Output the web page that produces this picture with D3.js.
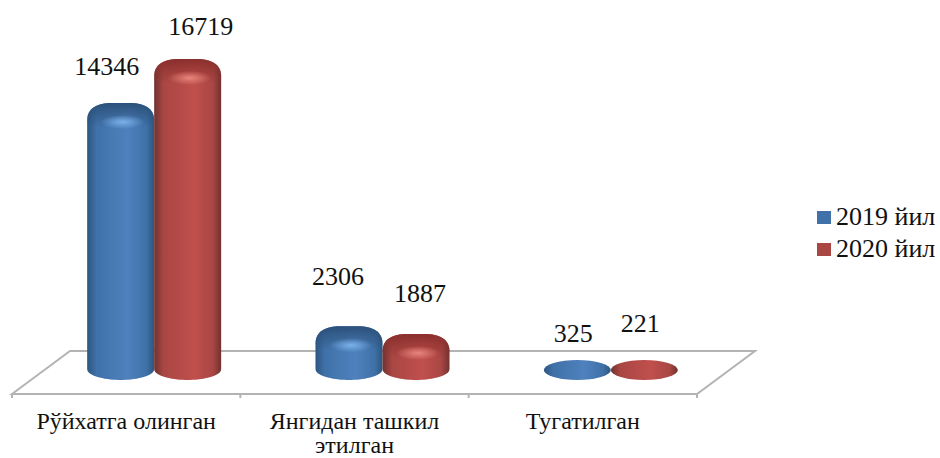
<!DOCTYPE html>
<html>
<head>
<meta charset="utf-8">
<script src="https://cdn.jsdelivr.net/npm/d3@7"></script>
<style>
    html, body { margin: 0; padding: 0; background: #fff; }
    text { font-family: "Liberation Serif", serif; fill: #111; }
</style>
</head>
<body>
<div id="chart"></div>
<script>
const categories = [['Рўйхатга олинган'], ['Янгидан ташкил', 'этилган'], ['Тугатилган']];
const seriesNames = ['2019 йил', '2020 йил'];
const values2019 = [14346, 2306, 325];
const values2020 = [16719, 1887, 221];

const width = 940;
const height = 458;
const depth = 58;       // floor skew
const frontY = 394;
const backY = 351;
const barBottom = 380;
const minBarHeight = 20;

// hand placed nudges for the data labels [dx, gap above bar]
const nudge2019 = [[-15, 28], [-12, 41], [-5, 18]];
const nudge2020 = [[12, 24], [3, 32], [-5, 28]];

const palette = [
    { dark: '#2d5680', mid: '#3f71a8', light: '#4f81bd', hi: '#7ab2ea', top: '#2b5079' },
    { dark: '#703230', mid: '#a94643', light: '#c0504d', hi: '#e8857c', top: '#8a2f2c' }
];

const svg = d3.select('#chart')
    .append('svg')
    .attr('width', width)
    .attr('height', height)
    .style('display', 'block');

const x = d3.scaleBand().domain(d3.range(categories.length)).range([12, 697]);
const y = d3.scaleLinear().domain([0, 16719]).range([369, 59]);

const defs = svg.append('defs');
defs.append('filter').attr('id', 'soft')
    .append('feGaussianBlur').attr('stdDeviation', 0.7);

palette.forEach((c, i) => {
    const g = defs.append('linearGradient').attr('id', `side${i}`);
    [[0, c.dark], [0.14, c.mid], [0.6, c.light], [0.88, c.mid], [1, c.dark]].forEach(s => {
        g.append('stop').attr('offset', s[0]).attr('stop-color', s[1]);
    });
    const cap = defs.append('linearGradient').attr('id', `cap${i}`)
        .attr('x1', 0).attr('x2', 0).attr('y1', 0).attr('y2', 1);
    cap.append('stop').attr('offset', 0).attr('stop-color', c.top).attr('stop-opacity', 1);
    cap.append('stop').attr('offset', 1).attr('stop-color', c.top).attr('stop-opacity', 0);
    const r = defs.append('radialGradient').attr('id', `hi${i}`);
    r.append('stop').attr('offset', 0).attr('stop-color', c.hi).attr('stop-opacity', 1);
    r.append('stop').attr('offset', 1).attr('stop-color', c.hi).attr('stop-opacity', 0);
});

// floor
const floor = svg.append('g')
    .attr('fill', 'none')
    .attr('stroke', '#b3b3b3')
    .attr('stroke-width', 2);

floor.append('path')
    .attr('d', `M12,${frontY}L${12 + depth},${backY}L${697 + depth},${backY}L697,${frontY}Z`);

floor.selectAll('line')
    .data(d3.range(categories.length + 1))
    .join('line')
    .attr('x1', d => 12 + d * x.bandwidth())
    .attr('x2', d => 12 + d * x.bandwidth())
    .attr('y1', frontY)
    .attr('y2', frontY + 4);

const barWidth = 67;

function ellipsePath(x0, top) {
    const h = barBottom - top;
    const w = barWidth;
    return `M${x0},${top + h / 2}A${w / 2},${h / 2} 0 1 1 ${x0 + w},${top + h / 2}A${w / 2},${h / 2} 0 1 1 ${x0},${top + h / 2}Z`;
}

// upper contour of a bar, left to right, with wide round shoulders
function shoulder(x0, top) {
    const w = barWidth;
    const rx = w * 0.36;
    return `L${x0},${top + 17}` +
        `C${x0},${top + 5} ${x0 + rx * 0.45},${top} ${x0 + rx},${top}` +
        `L${x0 + w - rx},${top}` +
        `C${x0 + w - rx * 0.45},${top} ${x0 + w},${top + 5} ${x0 + w},${top + 17}`;
}

function barPath(x0, top) {
    const w = barWidth;
    const rx = w * 0.32;
    if (barBottom - top <= minBarHeight) return ellipsePath(x0, top);
    return `M${x0},${barBottom - 11}` + shoulder(x0, top) +
        `L${x0 + w},${barBottom - 11}` +
        `C${x0 + w},${barBottom - 3} ${x0 + w - rx},${barBottom} ${x0 + w / 2},${barBottom}` +
        `C${x0 + rx},${barBottom} ${x0},${barBottom - 3} ${x0},${barBottom - 11}Z`;
}

function capPath(x0, top) {
    return `M${x0},${top + 24}` + shoulder(x0, top) + `L${x0 + barWidth},${top + 24}Z`;
}

const barTop = v => Math.min(y(v), barBottom - minBarHeight);
const barX = (s, i) => x(i) + x.bandwidth() / 2 + depth / 2 - 1 - barWidth + s * barWidth;

const barsLayer = svg.append('g').attr('filter', 'url(#soft)');

[values2019, values2020].forEach((vals, s) => {
    const g = barsLayer.append('g');
    g.selectAll('path.side')
        .data(vals)
        .join('path')
        .attr('class', 'side')
        .attr('d', (d, i) => barPath(barX(s, i), barTop(d)))
        .attr('fill', `url(#side${s})`);

    // shading and highlight on the rounded top, tall bars only
    const tall = vals.map((d, i) => ({ d, i })).filter(b => barBottom - barTop(b.d) > minBarHeight);

    g.selectAll('path.cap')
        .data(tall)
        .join('path')
        .attr('class', 'cap')
        .attr('d', b => capPath(barX(s, b.i), barTop(b.d)))
        .attr('fill', `url(#cap${s})`);

    g.selectAll('ellipse')
        .data(tall)
        .join('ellipse')
        .attr('cx', b => barX(s, b.i) + barWidth / 2 + 2)
        .attr('cy', b => barTop(b.d) + 19)
        .attr('rx', 22)
        .attr('ry', 7)
        .attr('fill', `url(#hi${s})`);
});

// data labels
[[values2019, nudge2019], [values2020, nudge2020]].forEach(([vals, nudge], s) => {
    svg.append('g')
        .attr('text-anchor', 'middle')
        .attr('font-size', 26)
        .selectAll('text')
        .data(vals)
        .join('text')
        .attr('x', (d, i) => barX(s, i) + barWidth / 2 + nudge[i][0] + 1)
        .attr('y', (d, i) => barTop(d) - nudge[i][1])
        .text(d => d);
});

// category labels
const catLabels = svg.append('g')
    .attr('text-anchor', 'middle')
    .attr('font-size', 24)
    .selectAll('text')
    .data(categories)
    .join('text')
    .attr('transform', (d, i) => `translate(${x(i) + x.bandwidth() / 2},429)`);

catLabels.selectAll('tspan')
    .data(d => d)
    .join('tspan')
    .attr('x', 0)
    .attr('y', (d, i) => i * 24)
    .text(d => d);

// legend
const legend = svg.append('g')
    .selectAll('g')
    .data(seriesNames)
    .join('g')
    .attr('transform', (d, i) => `translate(817,${211 + i * 32})`);

legend.append('rect')
    .attr('width', 14)
    .attr('height', 13)
    .attr('filter', 'url(#soft)')
    .attr('fill', (d, i) => palette[i].mid);

legend.append('text')
    .attr('x', 19)
    .attr('y', 14)
    .attr('font-size', 26)
    .text(d => d);
</script>
</body>
</html>
